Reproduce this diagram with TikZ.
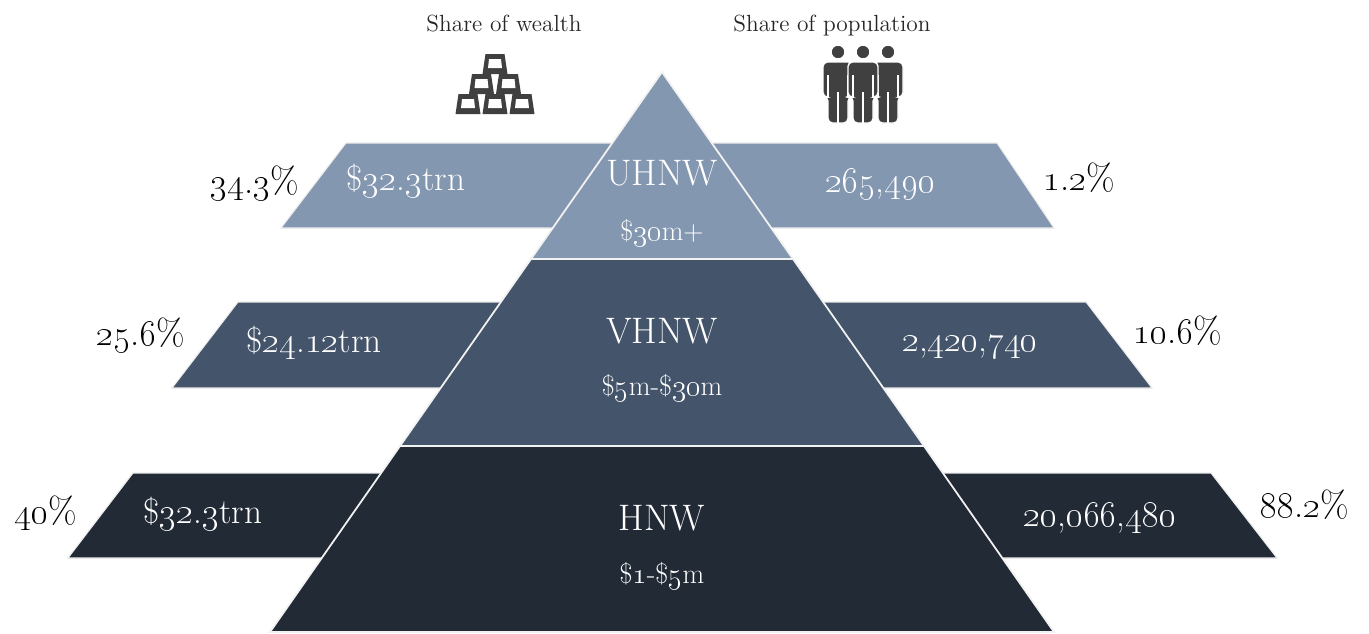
\documentclass[tikz,border=0pt]{standalone}
\usetikzlibrary{positioning}
\definecolor{tierlight}{HTML}{8497B0}
\definecolor{tiermid}{HTML}{44546A}
\definecolor{tierdark}{HTML}{222A35}
\colorlet{icongray}{black!75}
\newcommand{\on}[1]{\oldstylenums{#1}}
\newcommand{\goldbar}[2]{%
  \fill[icongray] (#1-12.5,#2) -- (#1+12.5,#2) -- (#1+9.5,#2-20) -- (#1-9.5,#2-20) -- cycle;
  \fill[white] (#1-7,#2-6) -- (#1+7,#2-6) -- (#1+6,#2-15) -- (#1-6,#2-15) -- cycle;}
\newcommand{\person}[1]{%
  \filldraw[icongray, draw=white, line width=0.8pt, rounded corners=2.5pt] (#1-15,97) -- (#1-15,62) -- (#1+15,62) -- (#1+15,97) -- (#1+10,97) -- (#1+10,123) -- (#1-10,123) -- (#1-10,97) -- cycle;
  \draw[white, line width=0.8pt] (#1-10,75) -- (#1-10,98) (#1+10,75) -- (#1+10,98) (#1,92) -- (#1,124);
  \filldraw[icongray, draw=white, line width=0.8pt] (#1,52) circle (7);}
\tikzset{
  bandshape/.style={draw=white!85!gray, line width=0.6pt},
  tiershape/.style={draw=white!90!gray, line width=1pt},
  sharelbl/.style={anchor=base, font=\fontsize{21}{25}\selectfont},
  amountlbl/.style={anchor=base, text=white, font=\fontsize{20}{24}\selectfont},
  tiername/.style={anchor=base, text=white, font=\fontsize{21}{25}\selectfont},
  tierrange/.style={anchor=base, text=white, font=\fontsize{16}{19}\selectfont},
  headerlbl/.style={anchor=base, text=black!85, font=\fontsize{13.3}{16}\selectfont},
}
\begin{document}
\begin{tikzpicture}[x=0.02cm, y=-0.02cm]
  \useasboundingbox (0,0) rectangle (1369,633);

  \filldraw[bandshape, fill=tierlight] (346,143) -- (997,143) -- (1054,228) -- (281,228) -- cycle;
  \filldraw[bandshape, fill=tiermid] (238,302) -- (1086,302) -- (1152,388) -- (172,388) -- cycle;
  \filldraw[bandshape, fill=tierdark] (133,473) -- (1211,473) -- (1277,558) -- (68,558) -- cycle;

  \coordinate (apex) at (662,72);
  \coordinate (l1) at (531,259); \coordinate (r1) at (793,259);
  \coordinate (l2) at (400,446); \coordinate (r2) at (924,446);
  \coordinate (l3) at (270,632); \coordinate (r3) at (1054,632);
  \filldraw[tiershape, fill=tierlight] (apex) -- (r1) -- (l1) -- cycle;
  \filldraw[tiershape, fill=tiermid] (l1) -- (r1) -- (r2) -- (l2) -- cycle;
  \filldraw[tiershape, fill=tierdark] (l2) -- (r2) -- (r3) -- (l3) -- cycle;

  \node[tiername] (uhnw) at (662,185) {UHNW};
  \node[tierrange] (uhnwr) at (662,240) {\$\on{30}m+};
  \node[tiername] (vhnw) at (662,343) {VHNW};
  \node[tierrange] (vhnwr) at (662,395) {\$\on{5}m-\$\on{30}m};
  \node[tiername] (hnw) at (662,530) {HNW};
  \node[tierrange] (hnwr) at (662,583) {\$\on{1}-\$\on{5}m};

  \node[amountlbl] (w1) at (406,190) {\$\on{32}.\on{3}trn};
  \node[amountlbl] (w2) at (314,352) {\$\on{24}.\on{12}trn};
  \node[amountlbl] (w3) at (203,523) {\$\on{32}.\on{3}trn};
  \node[amountlbl] (p1) at (880,192) {\on{265},\on{490}};
  \node[amountlbl] (p2) at (970,351) {\on{2},\on{420},\on{740}};
  \node[amountlbl] (p3) at (1100,526) {\on{20},\on{066},\on{480}};

  \node[sharelbl] (sw1) at (255,193) {\on{34}.\on{3}\%};
  \node[sharelbl] (sw2) at (141,345) {\on{25}.\on{6}\%};
  \node[sharelbl] (sw3) at (46,523) {\on{40}\%};
  \node[sharelbl] (sp1) at (1079,190) {\on{1}.\on{2}\%};
  \node[sharelbl] (sp2) at (1178,343) {\on{10}.\on{6}\%};
  \node[sharelbl] (sp3) at (1305,517) {\on{88}.\on{2}\%};

  \node[headerlbl] (hwealth) at (504,31) {Share of wealth};
  \node[headerlbl] (hpop) at (832,31) {Share of population};

  \foreach \x/\y in {468/114, 495/114, 522/114, 481.5/94, 508.5/94, 495/74}
    \goldbar{\x}{\y};
  \foreach \cx in {838, 888, 863}
    \person{\cx};
\end{tikzpicture}
\end{document}
